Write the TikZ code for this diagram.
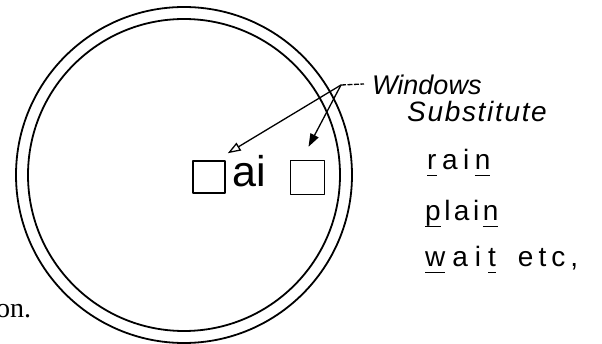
\documentclass[tikz,border=0pt]{standalone}
\usepackage{fontspec}
\setmainfont{Liberation Serif}
\newfontfamily\sansf{Liberation Sans}
\newfontfamily\handw{Liberation Sans}[LetterSpace=6]
\usetikzlibrary{arrows.meta}
\newcommand\ulx[1]{\setbox0\hbox{#1}\rlap{\rule[-6pt]{\wd0}{1.3pt}}#1}
\begin{document}
\begin{tikzpicture}[x=1pt,y=-1pt,line join=round,
  ring/.style={circle,draw,line width=1.8pt,inner sep=0pt},
  sq/.style={draw,line width=1.5pt,inner sep=0pt,minimum size=32pt},
  lbl/.style={inner sep=0pt,anchor=base west},
  word/.style={lbl,font=\sansf\fontsize{28}{28}\selectfont},
  ptr/.style={line width=1.3pt}]
\useasboundingbox (0,0) rectangle (602,344);
\node[ring,minimum size=336pt] (outer) at (184,175) {};
\node[ring,minimum size=312pt] (inner) at (184,175) {};
\node[sq] (box1) at (209,177) {};
\node[lbl,font=\sansf\fontsize{43}{43}\selectfont] (ai) at (232,187) {ai};
\node[sq,minimum size=34pt] (box2) at (307.5,177.5) {};
\coordinate (j) at (341,85);
\coordinate (lead) at (364,84);
\draw[ptr,dash pattern=on 5pt off 1.5pt] (j) -- (lead);
\draw[ptr,-{Triangle[open,length=13pt,width=9pt]}] (j) -- ([shift={(2,-7)}]box1.north east);
\draw[ptr,-{Triangle[length=13pt,width=9pt]}] (j) -- ([shift={(1,-13)}]box2.north);
\node[lbl,font=\sansf\itshape\fontsize{27}{27}\selectfont] (win) at (372,95) {Windows};
\node[lbl,font=\handw\itshape\fontsize{28}{28}\selectfont] (sub) at (407,122) {Substitute};
\node[word] (rain) at (427,170) {\ulx{r}\kern5.5pt a\kern5.5pt i\kern5.5pt\ulx{n}};
\node[word] (plain) at (425,221) {\ulx{p}\kern3.5pt l\kern3.5pt a\kern3.5pt i\kern3.5pt\ulx{n}};
\node[word] (wait) at (425,267) {\ulx{w}\kern7pt a\kern7pt i\kern7pt\ulx{t}\kern22pt e\kern5pt t\kern5pt c\kern5pt,};
\node[lbl,font=\fontsize{28}{28}\selectfont] (on) at (-4,318) {on.};
\end{tikzpicture}
\end{document}
